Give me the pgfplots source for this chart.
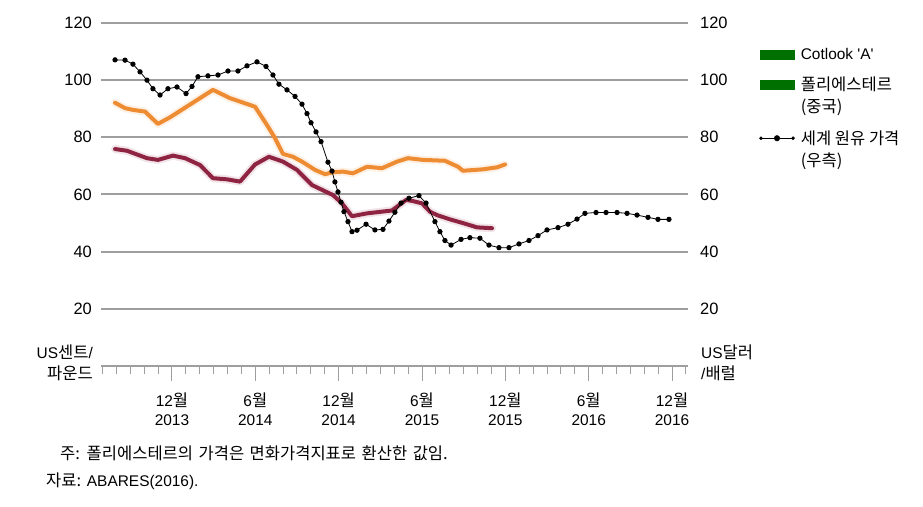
\documentclass[border=0pt]{standalone}
\usepackage{pgfplots}
\pgfplotsset{compat=1.18}
\usepackage{fontspec}
\setmainfont{Liberation Sans}
\newfontfamily\kr[Scale=1.07]{Noto Sans CJK KR}
\definecolor{gridc}{RGB}{158,158,158}
\definecolor{cotlook}{RGB}{142,36,66}
\definecolor{poly}{RGB}{238,140,52}
\definecolor{leggreen}{RGB}{0,112,0}
\newcommand\f{\fontsize{15.5}{21}\selectfont}
\newcommand\fx{\fontsize{15.5}{19}\selectfont}
\newcommand\fy{\fontsize{16.5}{20}\selectfont}
\newcommand\fl{\fontsize{15.5}{22.5}\selectfont}
\begin{document}
\begin{tikzpicture}[x=1bp,y=1bp]
\useasboundingbox (0,0) rectangle (923,507);
\begin{axis}[
  at={(101bp,141bp)}, anchor=south west,
  scale only axis, width=587bp, height=343bp,
  clip=false,
  xmin=-5.11, xmax=37.15, ymin=0, ymax=120,
  axis x line*=bottom, axis y line*=left,
  y axis line style={draw=none},
  x axis line style={draw=gridc, line width=1.3bp, -},
  xtick={0,6,...,36},
  xticklabels={{12{\kr 월}\\2013},{6{\kr 월}\\2014},{12{\kr 월}\\2014},{6{\kr 월}\\2015},{12{\kr 월}\\2015},{6{\kr 월}\\2016},{12{\kr 월}\\2016}},
  minor xtick={-5,...,37},
  tick align=outside,
  major tick length=15bp, minor tick length=8bp,
  xtick style={draw=gridc, line width=1bp},
  xticklabel style={font=\fx, align=center, anchor=north, inner sep=0pt, yshift=-12bp},
  ytick={20,40,...,120},
  ytick style={draw=none},
  yticklabel style={font=\fy, anchor=east, inner sep=0pt, xshift=6bp},
  /pgf/number format/assume math mode=true,
  ymajorgrids, major grid style={draw=gridc, line width=2bp},
]
\addplot[poly, line width=4bp, line join=round, line cap=round, preaction={draw=poly, line width=8bp, opacity=0.12}] coordinates {
(-4.10,92.1) (-3.38,90.2) (-2.81,89.6) (-1.94,89.0) (-1.01,84.7) (-0.14,87.0)
(2.95,96.6) (4.18,93.7) (5.98,90.7) (6.84,84.3) (7.42,79.7) (7.99,74.2)
(8.71,73.2) (9.36,71.5) (10.30,68.6) (11.02,67.1) (11.59,67.8) (12.31,68.0)
(13.03,67.4) (14.04,69.7) (15.12,69.2) (16.20,71.5) (16.99,72.7) (18.07,72.1)
(19.65,71.8) (20.59,69.7) (20.95,68.3) (22.39,68.8) (23.40,69.5) (23.97,70.5)
};
\addplot[cotlook, line width=4bp, line join=round, line cap=round, preaction={draw=cotlook, line width=8bp, opacity=0.12}] coordinates {
(-4.10,75.9) (-3.24,75.3) (-1.80,72.7) (-1.01,72.1) (0.07,73.6) (0.94,72.7)
(2.02,70.3) (2.95,65.7) (3.96,65.3) (4.90,64.5) (5.98,70.5) (6.98,73.2)
(7.99,71.5) (9.00,68.6) (10.08,63.3) (11.59,59.8) (12.24,56.9) (12.96,52.4)
(14.04,53.4) (15.84,54.4) (16.85,58.1) (17.35,57.7) (18.00,56.9) (18.57,54.0)
(19.08,52.8) (20.01,51.3) (20.95,50.0) (21.96,48.5) (23.04,48.2)
};
\node[anchor=east, align=right, inner sep=0pt, font=\f] at (rel axis cs:0,0) [xshift=-8bp, yshift=3bp] {US{\kr 센트}/\\{\kr 파운드}};
\node[anchor=west, align=left, inner sep=0pt, font=\f] at (rel axis cs:1,0) [xshift=13bp, yshift=3bp] {US{\kr 달러}\\/{\kr 배럴}};
\end{axis}
\begin{axis}[
  at={(101bp,141bp)}, anchor=south west,
  scale only axis, width=587bp, height=343bp,
  xmin=-5.11, xmax=37.15, ymin=0, ymax=120,
  axis x line=none, axis y line*=right,
  y axis line style={draw=none},
  ytick={20,40,...,120},
  ytick style={draw=none},
  yticklabel style={font=\fy, anchor=west, inner sep=0pt, xshift=12bp},
  /pgf/number format/assume math mode=true,
  legend style={at={(rel axis cs:1,1)}, anchor=north west, xshift=71bp, yshift=-25bp,
    draw=none, fill=none, inner sep=0pt, row sep=16bp, column sep=6bp, font=\fl,
    nodes={inner sep=0pt}},
  legend cell align=left,
]
\addlegendimage{legend image code/.code={\fill[leggreen] (0bp,-4.5bp) rectangle (34bp,4.5bp);}}
\addlegendentry{Cotlook \textquotesingle A\textquotesingle}
\addlegendimage{legend image code/.code={\fill[leggreen] (0bp,6.5bp) rectangle (34bp,15.5bp);}}
\addlegendentry[align=left]{{\kr 폴리에스테르}\\{\kr (중국)}}
\addplot[black, line width=0.8bp, mark=*, mark size=2.2bp,
  legend image code/.code={\draw[black, line width=0.8bp] (0bp,11bp) -- (34bp,11bp);
    \fill[black] (1bp,11bp) circle (1.4bp); \fill[black] (17bp,11bp) circle (2.6bp); \fill[black] (33bp,11bp) circle (1.4bp);}]
coordinates {
(-4.10,107.1) (-3.38,107.0) (-2.81,105.6) (-2.30,102.9) (-1.80,100.0) (-1.37,97.0)
(-0.86,94.8) (-0.29,97.0) (0.36,97.6) (1.01,95.3) (1.44,97.8) (1.87,101.2)
(2.59,101.5) (3.31,101.8) (4.03,103.2) (4.75,103.2) (5.40,105.0) (6.12,106.4)
(6.77,104.8) (7.27,101.8) (7.70,98.6) (8.28,96.6) (8.86,94.3) (9.36,91.6)
(9.72,88.3) (10.01,85.1) (10.37,81.9) (10.73,78.5) (11.23,71.3) (11.52,68.2)
(11.73,64.4) (11.95,60.9) (12.17,57.3) (12.38,54.0) (12.67,50.5) (12.96,47.0)
(13.32,47.5) (13.97,49.6) (14.61,47.6) (15.19,47.8) (15.62,50.7) (16.05,53.8)
(16.49,57.0) (17.06,58.7) (17.78,59.6) (18.29,57.0) (18.93,50.5) (19.29,47.0)
(19.65,43.9) (20.09,42.3) (20.81,44.3) (21.45,44.9) (22.17,44.7) (22.82,42.3)
(23.54,41.4) (24.26,41.4) (24.98,42.7) (25.70,43.9) (26.35,45.6) (27.00,47.6)
(27.79,48.4) (28.51,49.6) (29.16,51.4) (29.73,53.4) (30.53,53.7) (31.25,53.7)
(32.04,53.7) (32.76,53.4) (33.48,52.8) (34.27,52.0) (34.99,51.3) (35.78,51.3)
};
\addlegendentry[align=left]{{\kr 세계 원유 가격}\\{\kr (우측)}}
\end{axis}
\node[anchor=west, inner sep=0pt, font=\f] at (60,54) {{\kr\spaceskip=5.5bp 주: 폴리에스테르의 가격은 면화가격지표로 환산한 값임.}};
\node[anchor=west, inner sep=0pt, font=\f] at (46,26) {{\kr\spaceskip=5.5bp 자료:} ABARES(2016).};
\end{tikzpicture}
\end{document}
